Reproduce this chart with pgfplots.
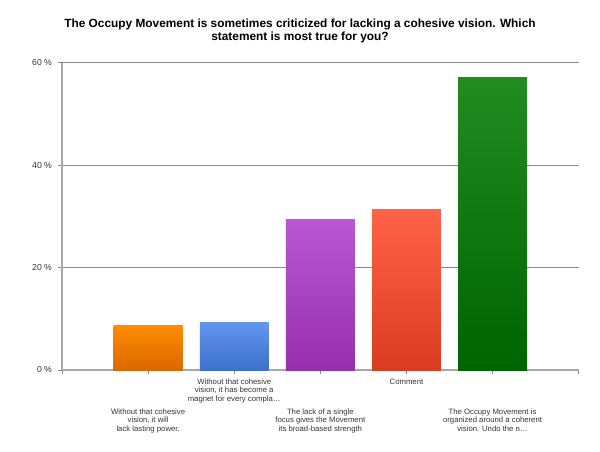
\documentclass[border=0pt]{standalone}
\usepackage{pgfplots}
\pgfplotsset{compat=1.18}
\usepackage{fontspec}
\setmainfont{Liberation Sans}
\definecolor{gridgray}{HTML}{8A8A8A}
\definecolor{axgray}{HTML}{A8A8A8}
\definecolor{txt}{HTML}{333333}
\begin{document}
\begin{tikzpicture}
\begin{axis}[
  at={(46.5pt,60.75pt)}, anchor=south west,
  scale only axis, width=387.5pt, height=230.5pt,
  xmin=-1, xmax=5, ymin=0, ymax=60,
  axis x line=bottom, axis y line=left,
  axis line style={-},
  x axis line style={draw=axgray, line width=0.9pt},
  y axis line style={draw=axgray, line width=1.6pt},
  ytick={0,20,40,60},
  yticklabels={0 \%,20 \%,40 \%,60 \%},
  ymajorgrids, major grid style={draw=gridgray, line width=0.8pt},
  tick align=outside, major tick length=3pt,
  tick style={draw=gridgray, line width=0.6pt},
  yticklabel style={font=\fontsize{6.5}{7}\selectfont, text=txt, xshift=-1pt},
  xtick={-1,1,3,5},
  xticklabels={{},{Without that cohesive\\vision, it has become a\\magnet for every compla\ldots},{Comment},{}},
  xticklabel style={font=\fontsize{5.8}{6.3}\selectfont, text=txt, align=center, anchor=north, yshift=0pt},
  extra x ticks={0,2,4},
  extra x tick labels={{Without that cohesive\\vision, it will\\lack lasting power.},{The lack of a single\\focus gives the Movement\\its broad-based strength},{The Occupy Movement is\\organized around a coherent\\vision. Undo the n\ldots}},
  extra x tick style={xticklabel style={yshift=-22.5pt}, grid=none},
]
\addplot[ybar, bar width=0.8, draw=none, top color={rgb,255:red,255;green,140;blue,0}, bottom color={rgb,255:red,218;green,104;blue,0}] coordinates {(0,8.7)};
\addplot[ybar, bar width=0.8, draw=none, top color={rgb,255:red,100;green,149;blue,237}, bottom color={rgb,255:red,60;green,112;blue,204}] coordinates {(1,9.2)};
\addplot[ybar, bar width=0.8, draw=none, top color={rgb,255:red,186;green,85;blue,211}, bottom color={rgb,255:red,150;green,48;blue,173}] coordinates {(2,29.3)};
\addplot[ybar, bar width=0.8, draw=none, top color={rgb,255:red,255;green,99;blue,71}, bottom color={rgb,255:red,218;green,60;blue,34}] coordinates {(3,31.3)};
\addplot[ybar, bar width=0.8, draw=none, top color={rgb,255:red,34;green,139;blue,34}, bottom color={rgb,255:red,0;green,100;blue,0}] coordinates {(4,57.1)};
\end{axis}
\node[anchor=north, align=center, font=\bfseries\fontsize{8.9}{10}\selectfont, text=black] at (225pt,327.5pt)
  {The Occupy Movement is sometimes criticized for lacking a cohesive vision. Which\\statement is most true for you?};
\pgfresetboundingbox
\useasboundingbox (0,0) rectangle (450pt,338.25pt);
\end{tikzpicture}
\end{document}
